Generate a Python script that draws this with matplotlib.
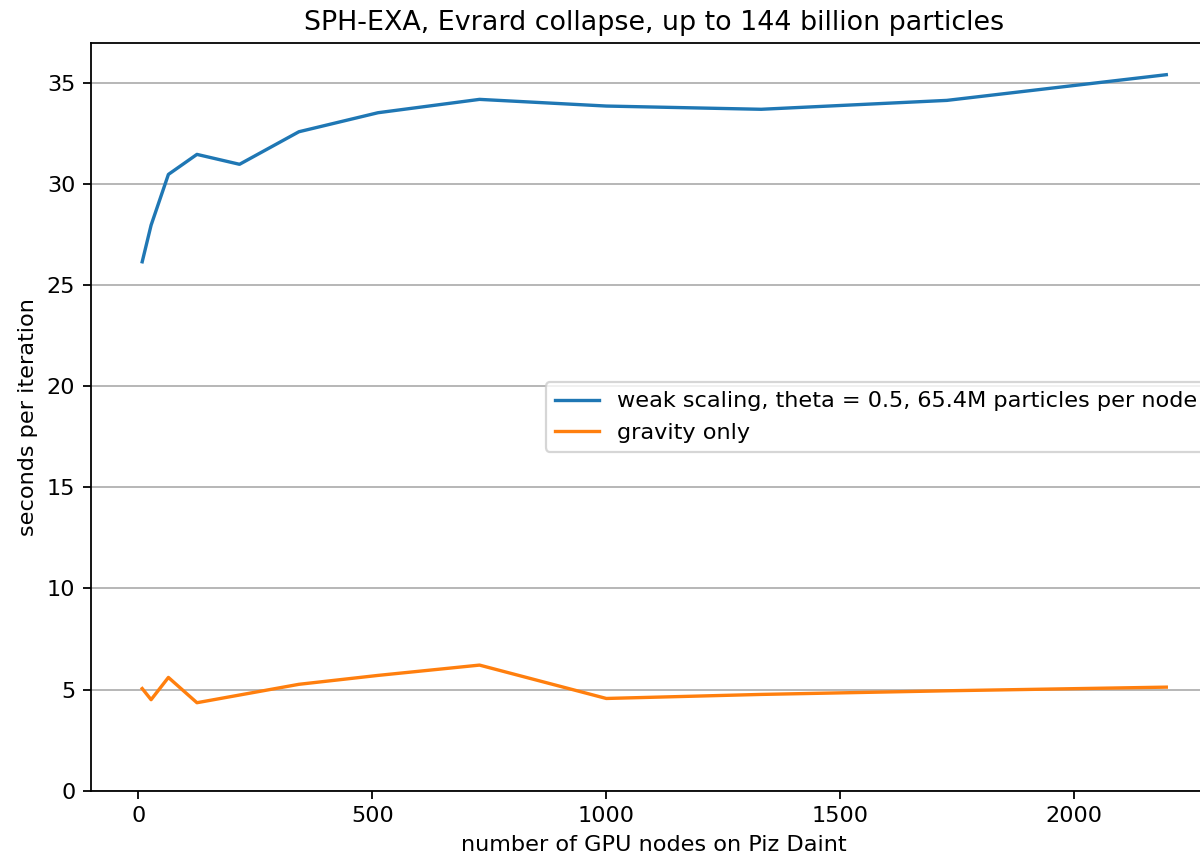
import numpy as np
import matplotlib
matplotlib.use('Agg')
import matplotlib.pyplot as plt

# node counts (cubes) and timings
nodes = [8, 27, 64, 125, 216, 343, 512, 729, 1000, 1331, 1728, 2197]
weakScaling = [26.15, 27.96, 30.47, 31.46, 30.97, 32.58, 33.52, 34.18, 33.85, 33.69, 34.13, 35.4]
gravityOnly = [5.05, 4.5, 5.6, 4.35, 4.73, 5.26, 5.7, 6.21, 4.56, 4.76, 4.94, 5.12]

dpi = 161
fig = plt.figure(figsize=(1200.0/dpi, 857.0/dpi), dpi=dpi)
# axes runs a little past the right edge, like the cropped original
ax = fig.add_axes([91/1200.0, 1-790.7/857.0, (1217.5-91)/1200.0, (790.7-43.3)/857.0])

ax.plot(nodes, weakScaling, label='weak scaling, theta = 0.5, 65.4M particles per node')
ax.plot(nodes, gravityOnly, label='gravity only')

ax.set_ylim(bottom=0)
ax.grid(axis='y')
ax.set_xlabel('number of GPU nodes on Piz Daint')
ax.set_ylabel('seconds per iteration')
ax.set_title('SPH-EXA, Evrard collapse, up to 144 billion particles')
ax.legend(loc='center right')

fig.savefig('out.png', dpi=dpi)
